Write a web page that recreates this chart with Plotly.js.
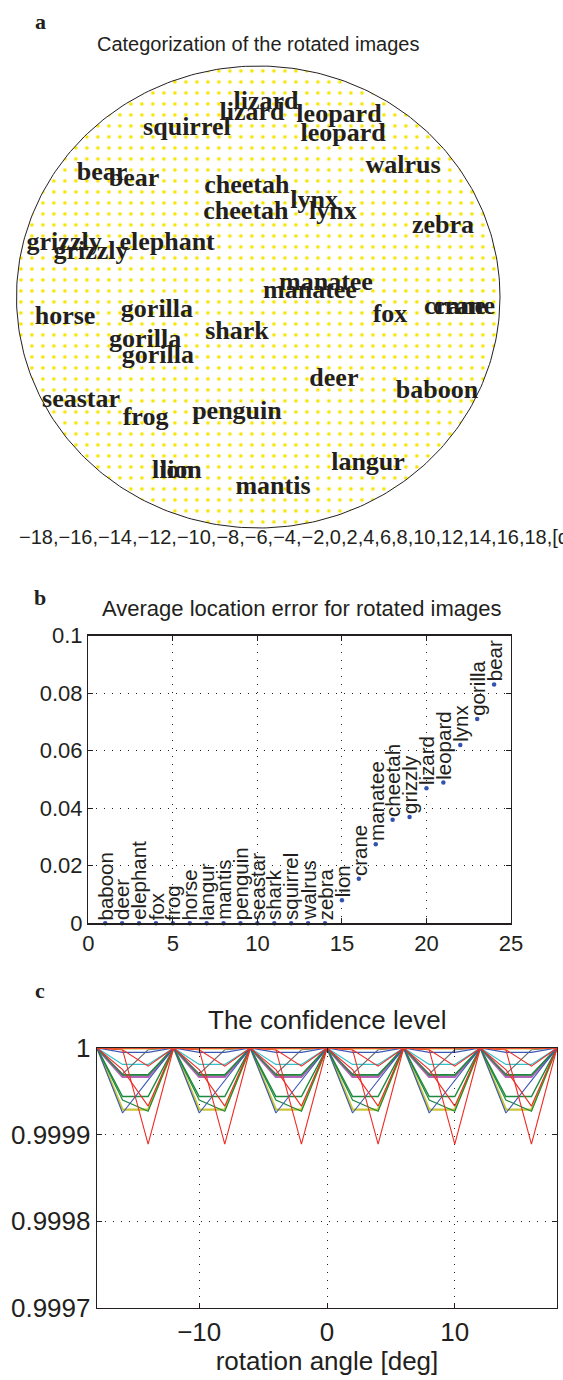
<!DOCTYPE html>
<html>
<head>
<meta charset="utf-8">
<script src="https://cdn.plot.ly/plotly-3.0.1.min.js"></script>
<style>html,body{margin:0;padding:0;background:#fff;}#chart{width:563px;height:1380px;}</style>
</head>
<body>
<div id="chart"></div>
<script>
// ---------- Panel a: categorization of rotated images ----------
const aWords = ["lizard","lizard","leopard","leopard","squirrel","walrus","bear","bear","cheetah","cheetah",
  "lynx","lynx","zebra","grizzly","grizzly","elephant","manatee","manatee","crane","crane",
  "fox","horse","gorilla","gorilla","gorilla","shark","deer","baboon","seastar","frog",
  "penguin","lion","lion","langur","mantis"];
const aX = [0.032,-0.026,0.334,0.351,-0.295,0.599,-0.646,-0.514,-0.047,-0.051,
  0.231,0.309,0.764,-0.803,-0.692,-0.377,0.280,0.214,0.814,0.851,
  0.545,-0.799,-0.419,-0.468,-0.415,-0.088,0.313,0.739,-0.733,-0.466,
  -0.088,-0.353,-0.320,0.454,0.061];
const aY = [0.840,0.793,0.784,0.702,0.728,0.563,0.533,0.507,0.477,0.364,
  0.412,0.364,0.304,0.230,0.191,0.230,0.057,0.022,-0.047,-0.047,
  -0.082,-0.090,-0.060,-0.190,-0.259,-0.155,-0.359,-0.411,-0.450,-0.527,
  -0.502,-0.757,-0.757,-0.722,-0.826];
const aTickLabels = ["−18","−16","−14","−12","−10","−8","−6","−4","−2","0","2","4","6","8","10","12","14","16","18","[deg]"];

// ---------- Panel b: average location error ----------
const bNames = ["baboon","deer","elephant","fox","frog","horse","langur","mantis","penguin","seastar",
  "shark","squirrel","walrus","zebra","lion","crane","manatee","cheetah","grizzly","lizard",
  "leopard","lynx","gorilla","bear"];
const bIndex = [1,2,3,4,5,6,7,8,9,10,11,12,13,14,15,16,17,18,19,20,21,22,23,24];
const bError = [0,0,0,0,0,0,0,0,0,0,0,0,0,0,0.0080,0.0155,0.0275,0.0360,0.0370,0.0470,0.0490,0.0620,0.0710,0.0830];

// ---------- Panel c: confidence level ----------
const cAngle = [-18,-16,-14,-12,-10,-8,-6,-4,-2,0,2,4,6,8,10,12,14,16,18];
const cYellow   = [1,0.999929,0.999929,1,0.999929,0.999929,1,0.999929,0.999929,1,0.999929,0.999929,1,0.999929,0.999929,1,0.999929,0.999929,1];
const cMagenta  = [1,0.999967,0.999967,1,0.999967,0.999967,1,0.999967,0.999967,1,0.999967,0.999967,1,0.999967,0.999967,1,0.999967,0.999967,1];
const cGreenB   = [1,0.999944,0.999944,1,0.999944,0.999944,1,0.999944,0.999944,1,0.999944,0.999944,1,0.999944,0.999944,1,0.999944,0.999944,1];
const cGreenC   = [1,0.999940,0.999927,1,0.999940,0.999927,1,0.999940,0.999927,1,0.999940,0.999927,1,0.999940,0.999927,1,0.999940,0.999927,1];
const cGreenA   = [1,0.999969,0.999969,1,0.999969,0.999969,1,0.999969,0.999969,1,0.999969,0.999969,1,0.999969,0.999969,1,0.999969,0.999969,1];
const cCyan     = [1,0.999981,0.999981,1,0.999981,0.999981,1,0.999981,0.999981,1,0.999981,0.999981,1,0.999981,0.999981,1,0.999981,0.999981,1];
const cGray     = [1,0.999970,0.999998,1,0.999970,0.999998,1,0.999970,0.999998,1,0.999970,0.999998,1,0.999970,0.999998,1,0.999970,0.999998,1];
const cBlueB    = [1,0.999925,0.999963,1,0.999925,0.999963,1,0.999925,0.999963,1,0.999925,0.999963,1,0.999925,0.999963,1,0.999925,0.999963,1];
const cBlueA    = [1,0.999995,0.999995,1,0.999995,0.999995,1,0.999995,0.999995,1,0.999995,0.999995,1,0.999995,0.999995,1,0.999995,0.999995,1];
const cRedMid   = [1,0.999975,0.999933,1,0.999975,0.999933,1,0.999975,0.999933,1,0.999975,0.999933,1,0.999975,0.999933,1,0.999975,0.999933,1];
const cRedLow   = [1,0.999998,0.999979,1,0.999998,0.999979,1,0.999998,0.999979,1,0.999998,0.999979,1,0.999998,0.999979,1,0.999998,0.999979,1];
const cRedDeep  = [1,0.999998,0.999889,1,0.999998,0.999889,1,0.999998,0.999889,1,0.999998,0.999889,1,0.999998,0.999889,1,0.999998,0.999889,1];
const cYellowTop= [1,0.999999,0.999999,1,0.999999,0.999999,1,0.999999,0.999999,1,0.999999,0.999999,1,0.999999,0.999999,1,0.999999,0.999999,1];
const cRedTop   = [1,1,1,1,1,1,1,1,1,1,1,1,1,1,1,1,1,1,1];

const INK = '#231f20';
const W = 563, H = 1380;
const px = v => v / W;
const py = v => 1 - v / H;

const traces = [];

// ellipse outline with dotted yellow fill
const ex = [], ey = [];
for (let i = 0; i <= 360; i++) { const t = i * Math.PI / 180; ex.push(Math.cos(t)); ey.push(Math.sin(t)); }
traces.push({
  type: 'scatter', mode: 'lines', x: ex, y: ey, xaxis: 'x', yaxis: 'y',
  fill: 'toself', fillcolor: 'white',
  fillpattern: {shape: '.', fgcolor: '#f7e400', bgcolor: 'white', size: 11, solidity: 0.085},
  line: {color: INK, width: 1}, hoverinfo: 'skip', cliponaxis: false
});
traces.push({
  type: 'scatter', mode: 'text', x: aX, y: aY, text: aWords, xaxis: 'x', yaxis: 'y',
  textposition: 'middle center', cliponaxis: false,
  textfont: {family: 'Liberation Serif, Times New Roman, serif', size: 26, color: INK, weight: 'bold'}
});

// panel b
traces.push({
  type: 'scatter', mode: 'markers', x: bIndex, y: bError, xaxis: 'x2', yaxis: 'y2',
  marker: {color: '#3352b0', size: 4.5}, cliponaxis: false
});

// panel c
const cSeries = [
  [cYellow, '#c9c63a', 2.2], [cMagenta, '#b566b8', 2.6], [cGreenB, '#1e8a3c', 1.4],
  [cGreenC, '#1e8a3c', 1.2], [cGreenA, '#1e8a3c', 1.6], [cCyan, '#2cc3c9', 1.2],
  [cGray, '#6b6b6b', 1.1], [cBlueB, '#3a58b4', 1.1], [cBlueA, '#3a58b4', 1.2],
  [cRedMid, '#ee2b24', 1.1], [cRedLow, '#ee2b24', 1.1], [cRedDeep, '#ee2b24', 1.1],
  [cYellowTop, '#d2c23a', 1.2], [cRedTop, '#ee2b24', 1.6]
];
cSeries.forEach(s => traces.push({
  type: 'scatter', mode: 'lines', x: cAngle, y: s[0], xaxis: 'x3', yaxis: 'y3',
  line: {color: s[1], width: s[2]}, cliponaxis: false
}));

const gridDash = '1px,7px';
const axisBase = {
  showline: true, linecolor: INK, linewidth: 1.3, mirror: 'ticks', ticks: 'inside',
  ticklen: 5, tickcolor: INK, tickwidth: 1, zeroline: false,
  showgrid: true, gridcolor: INK, gridwidth: 1, griddash: gridDash
};

const paperText = (text, x, y, font, extra) => Object.assign({
  text: text, x: px(x), y: py(y), xref: 'paper', yref: 'paper', showarrow: false,
  xanchor: 'center', yanchor: 'middle', font: font
}, extra || {});
const panelFont = {family: 'Liberation Serif, serif', size: 22, color: INK, weight: 'bold'};

const annotations = [
  paperText('a', 40, 22, panelFont),
  paperText('b', 40, 597, panelFont),
  paperText('c', 40, 990, panelFont),
  paperText('Categorization of the rotated images', 258, 44, {size: 20, color: INK}),
  paperText(aTickLabels.join(','), 17, 537, {size: 20, color: INK}, {xanchor: 'left'}),
  paperText('Average location error for rotated images', 301, 608, {size: 22, color: INK}),
  paperText('The confidence level', 327, 1020, {size: 26, color: INK})
];
bNames.forEach((n, i) => annotations.push({
  text: n, x: bIndex[i], y: bError[i], xref: 'x2', yref: 'y2', showarrow: false,
  textangle: -90, xanchor: 'center', yanchor: 'bottom', yshift: 2, borderpad: 0,
  font: {size: 20.5, color: INK}
}));

const layout = {
  width: W, height: H, margin: {l: 0, r: 0, t: 0, b: 0},
  paper_bgcolor: 'white', plot_bgcolor: 'rgba(0,0,0,0)',
  font: {family: 'Liberation Sans, Arial, sans-serif', color: INK},
  showlegend: false, hovermode: false,
  xaxis: {domain: [px(4.4), px(512.1)], range: [-1.05, 1.05], visible: false, anchor: 'y', fixedrange: true},
  yaxis: {domain: [py(539.55), py(54.45)], range: [-1.05, 1.05], visible: false, anchor: 'x', fixedrange: true},
  xaxis2: Object.assign({}, axisBase, {domain: [px(88.3), px(511)], range: [0, 25], tickvals: [0,5,10,15,20,25],
    anchor: 'y2', tickfont: {size: 22, color: INK}}),
  yaxis2: Object.assign({}, axisBase, {domain: [py(923.3), py(635.7)], range: [0, 0.1], tickvals: [0,0.02,0.04,0.06,0.08,0.1],
    ticktext: ['0','0.02','0.04','0.06','0.08','0.1'], anchor: 'x2', tickfont: {size: 22, color: INK}}),
  xaxis3: Object.assign({}, axisBase, {domain: [px(97), px(557)], range: [-18, 18], tickvals: [-10,0,10],
    ticktext: ['−10','0','10'], anchor: 'y3', tickfont: {size: 26, color: INK},
    title: {text: 'rotation angle [deg]', font: {size: 26, color: INK}, standoff: 4}}),
  yaxis3: Object.assign({}, axisBase, {domain: [py(1308), py(1048)], range: [0.9997, 1], tickvals: [0.9997,0.9998,0.9999,1],
    ticktext: ['0.9997','0.9998','0.9999','1'], anchor: 'x3', tickfont: {size: 26, color: INK}}),
  annotations: annotations
};

Plotly.newPlot('chart', traces, layout, {displayModeBar: false, staticPlot: true});
</script>
</body>
</html>
